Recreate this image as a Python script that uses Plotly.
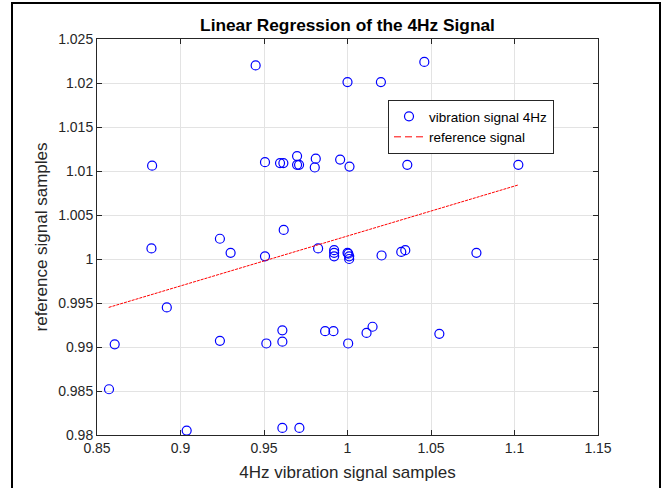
import plotly.graph_objects as go

# vibration signal 4Hz samples (x) vs reference signal samples (y)
vib_x = [0.945, 1.000, 1.020, 1.046, 0.883, 0.9506, 0.9596, 0.9616, 0.9698, 0.9698,
         0.971, 0.981, 0.9804, 0.9956, 1.0012, 1.0358, 1.1023, 0.9618, 0.9236, 0.8826,
         0.930, 0.9506, 0.9824, 0.992, 0.992, 0.992, 1.000, 1.0005, 1.001, 1.001,
         1.0204, 1.0322, 1.0346, 1.0772, 0.8918, 0.8606, 0.8572, 0.9037, 0.9236, 0.9514,
         0.961, 0.961, 0.961, 0.9712, 0.9866, 0.9916, 1.0004, 1.0114, 1.015, 1.055]
vib_y = [1.0220, 1.0201, 1.0201, 1.0224, 1.0106, 1.0110, 1.0109, 1.0109, 1.0117, 1.0107,
         1.0107, 1.0114, 1.0104, 1.0113, 1.0105, 1.0107, 1.0107, 1.0033, 1.0023, 1.0012,
         1.0007, 1.0003, 1.0012, 1.0010, 1.0007, 1.0003, 1.0007, 1.0006, 1.0003, 1.0000,
         1.0004, 1.0008, 1.0010, 1.0007, 0.9945, 0.9903, 0.9852, 0.9805, 0.9907, 0.9904,
         0.9919, 0.9906, 0.9808, 0.9808, 0.9918, 0.9918, 0.9904, 0.9916, 0.9923, 0.9915]

# reference (regression) line end points
ref_x = [0.857, 1.102]
ref_y = [0.9945, 1.0084]

x_ticks = [0.85, 0.9, 0.95, 1.0, 1.05, 1.1, 1.15]
x_tick_text = ["0.85", "0.9", "0.95", "1", "1.05", "1.1", "1.15"]
y_ticks = [0.98, 0.985, 0.99, 0.995, 1.0, 1.005, 1.01, 1.015, 1.02, 1.025]
y_tick_text = ["0.98", "0.985", "0.99", "0.995", "1", "1.005", "1.01", "1.015", "1.02", "1.025"]

FONT = "Liberation Sans, Arial, sans-serif"
AX = "#262626"

fig = go.Figure()
fig.add_trace(go.Scatter(
    x=vib_x, y=vib_y, mode="markers", name="vibration signal 4Hz",
    marker=dict(symbol="circle-open", size=9, color="#0000ff", line=dict(width=1.2, color="#0000ff")),
))
fig.add_trace(go.Scatter(
    x=ref_x, y=ref_y, mode="lines", showlegend=False,
    line=dict(color="#ff0000", width=1, dash="3px,1px"),
))
fig.add_trace(go.Scatter(
    x=[None], y=[None], mode="lines", name="reference signal",
    line=dict(color="#ff0000", width=1, dash="7px,4px"),
))

axis_common = dict(
    automargin=False,
    showgrid=True, gridcolor="#e3e3e3", gridwidth=1,
    showline=True, linecolor=AX, linewidth=1, mirror="ticks",
    ticks="inside", ticklen=5, tickcolor=AX, tickwidth=1,
    zeroline=False, tickfont=dict(family=FONT, size=14, color=AX),
)

fig.update_layout(
    width=667, height=488,
    margin=dict(l=97, r=69, t=39, b=53, autoexpand=False),
    paper_bgcolor="white", plot_bgcolor="white",
    font=dict(family=FONT, color=AX),
    title=dict(text="<b>Linear Regression of the 4Hz Signal</b>",
               x=347.5 / 667, xanchor="center", y=1 - 25 / 488, yanchor="middle",
               font=dict(family=FONT, size=17.3, color="black")),
    xaxis=dict(range=[0.85, 1.15], tickvals=x_ticks, ticktext=x_tick_text,
               title=dict(text="4Hz vibration signal samples", standoff=11,
                          font=dict(family=FONT, size=17, color=AX)),
               **axis_common),
    yaxis=dict(range=[0.98, 1.025], tickvals=y_ticks, ticktext=y_tick_text,
               title=dict(text="reference signal samples", standoff=6,
                          font=dict(family=FONT, size=17, color=AX)),
               **axis_common),
    legend=dict(x=(388 - 97) / 501, y=1 - (100 - 39) / 396, xanchor="left", yanchor="top",
                bgcolor="white", bordercolor=AX, borderwidth=1,
                font=dict(family=FONT, size=13.5, color="black"),
                tracegroupgap=0),
    showlegend=True,
)

# outer figure frame (as in the reference image)
fig.add_shape(type="rect", xref="paper", yref="paper",
              x0=(12 - 97) / 501, x1=(660 - 97) / 501,
              y0=(435 - 500) / 396, y1=1 + (39 - 3) / 396,
              line=dict(color="black", width=2), layer="above")

fig.write_html("out.html", config={"displayModeBar": False},
               post_script="document.body.style.margin='0';document.body.style.padding='0';")
